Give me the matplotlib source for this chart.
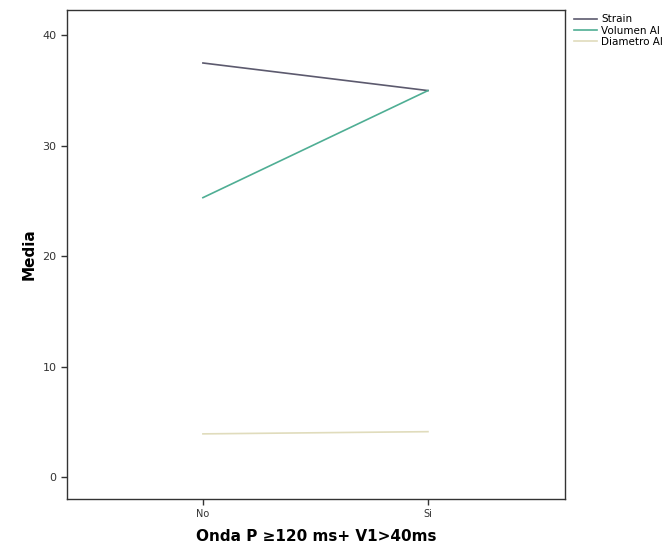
import matplotlib.pyplot as plt

# group means per category of the P-wave criterion
categorias = ["No", "Si"]
strain = [37.5, 35.0]
volumen_ai = [25.3, 35.0]
diametro_ai = [3.9, 4.1]

series = ["Strain", "Volumen AI", "Diametro AI"]
colores = ["#5c5a6e", "#4fae94", "#e0dcbc"]

fig = plt.figure(figsize=(6.71, 5.56), dpi=100)
ax = fig.add_axes([67 / 671, 1 - 499 / 556, (565 - 67) / 671, (499 - 10) / 556])

x = list(range(len(categorias)))
for nombre, valores, c in zip(series, [strain, volumen_ai, diametro_ai], colores):
    ax.plot(x, valores, color=c, linewidth=1.2, label=nombre)

ax.set_xlim(-0.604, 1.609)
ax.set_ylim(-2.0, 42.3)
ax.set_xticks(x)
ax.set_xticklabels(categorias)
ax.set_yticks([0, 10, 20, 30, 40])

for s in ax.spines.values():
    s.set_color("#333333")
    s.set_linewidth(1.0)
ax.tick_params(colors="#333333", labelsize=8, length=4, width=1)
ax.tick_params(axis="x", labelsize=7)

ax.set_ylabel("Media", fontsize=11, fontweight="bold", labelpad=4)
ax.set_xlabel("Onda P \u2265120 ms+ V1>40ms", fontsize=11, fontweight="bold", labelpad=7)

leg = ax.legend(loc="upper left", bbox_to_anchor=(1.0, 1.01), frameon=False,
                fontsize=7.5, handlelength=2.2, handletextpad=0.4,
                labelspacing=0.1, borderaxespad=0.5)

fig.savefig("out.png", dpi=100, facecolor="white")
